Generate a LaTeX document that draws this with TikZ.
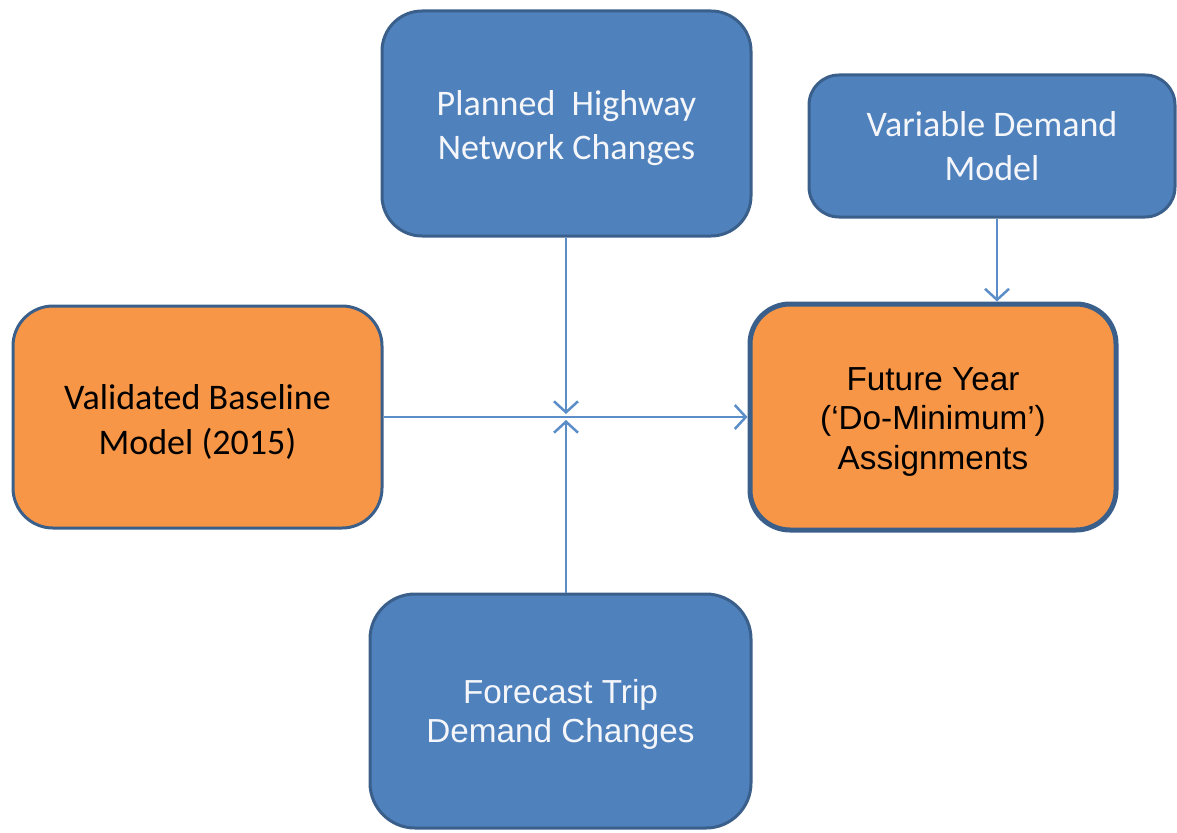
\documentclass[tikz,border=0pt]{standalone}
\usepackage{fontspec}
\setmainfont{Carlito}
\newfontfamily\arialf{Liberation Sans}
\usetikzlibrary{arrows.meta}
\definecolor{boxblue}{HTML}{4F81BD}
\definecolor{edgeblue}{HTML}{3A5F8B}
\definecolor{boxorange}{HTML}{F79646}
\definecolor{linkblue}{HTML}{5B8DC9}
\definecolor{softwhite}{HTML}{F4F6FA}
\tikzset{
 box/.style={draw=edgeblue, line width=3pt, rounded corners=40pt, align=center, inner sep=0pt},
 bluebox/.style={box, fill=boxblue, text=softwhite},
 orangebox/.style={box, fill=boxorange, text=black},
 calib/.style={font=\fontsize{36}{44.5}\selectfont},
 arialtxt/.style={font=\arialf\fontsize{33.3}{39.5}\selectfont},
 link/.style={draw=linkblue, line width=2.5pt, -{Straight Barb[length=11pt,width=24pt,line width=2.5pt]}}
}
\begin{document}
\begin{tikzpicture}[x=1pt,y=-1pt]
\useasboundingbox (0,0) rectangle (1177,832);
\node[bluebox, calib, minimum width=369pt, minimum height=225pt] (plan) at (566.5,123.5) {\rule{0pt}{34pt}Planned\ \ Highway\\Network Changes};
\node[bluebox, calib, rounded corners=30pt, minimum width=366pt, minimum height=142pt] (var) at (992,146) {Variable Demand\\Model};
\node[orangebox, calib, minimum width=369pt, minimum height=222pt] (valid) at (197.5,417) {\rule{0pt}{35pt}Validated Baseline\\Model (2015)};
\node[orangebox, arialtxt, line width=5pt, minimum width=366pt, minimum height=226pt] (fut) at (933,417) {\rule{0pt}{32pt}Future Year\\(‘Do-Minimum’)\\Assignments};
\node[bluebox, arialtxt, rounded corners=45pt, minimum width=381pt, minimum height=234pt] (fore) at (560.5,711) {\rule{0pt}{31pt}Forecast Trip\\Demand Changes};
\coordinate (hubtop) at (566,414);
\coordinate (hubbot) at (566,420);
\coordinate (vx) at (997,0);
\draw[link] (plan.south -| hubtop) -- (hubtop);
\draw[link] (fore.north -| hubbot) -- (hubbot);
\draw[link] (valid.east) -- (fut.west);
\draw[link] (var.south -| vx) -- (fut.north -| vx);
\end{tikzpicture}
\end{document}
